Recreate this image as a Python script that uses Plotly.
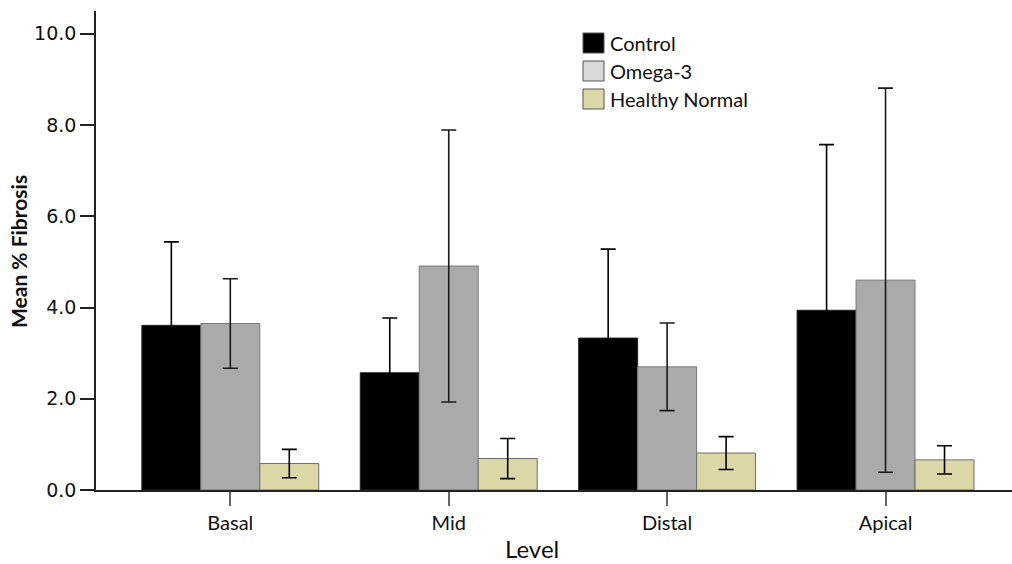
import plotly.graph_objects as go

# Mean % fibrosis by level, with error bars (± values)
levels = ["Basal", "Mid", "Distal", "Apical"]
groups = ["Control", "Omega-3", "Healthy Normal"]

control_mean = [3.61, 2.57, 3.33, 3.94]
control_err = [1.83, 1.20, 1.95, 3.63]

omega_mean = [3.65, 4.91, 2.70, 4.60]
omega_err = [0.98, 2.98, 0.96, 4.21]

healthy_mean = [0.58, 0.69, 0.81, 0.66]
healthy_err = [0.31, 0.44, 0.36, 0.31]

y_ticks = [0.0, 2.0, 4.0, 6.0, 8.0, 10.0]

bar_fill = ["#000000", "#aaaaaa", "#dbd7a7"]
bar_line = ["#222222", "#7a7a7a", "#6e6e6e"]
legend_fill = ["#000000", "#d9d9d9", "#dbd7a7"]
err_color = ["#000000", "#1a1a1a", "#000000"]

W, H = 1012, 564
ML, MR, MT, MB = 96, 0, 11, 74
PW, PH = W - ML - MR, H - MT - MB


def px_x(px):
    return (px - ML) / PW


def px_y(py):
    return (H - MB - py) / PH


fig = go.Figure()
series = [(control_mean, control_err), (omega_mean, omega_err), (healthy_mean, healthy_err)]
for i, (name, (vals, errs)) in enumerate(zip(groups, series)):
    fig.add_trace(go.Bar(
        name=name,
        x=levels,
        y=vals,
        marker=dict(color=bar_fill[i], line=dict(color=bar_line[i], width=1)),
        error_y=dict(type="data", array=errs, visible=True,
                     color=err_color[i], thickness=1.6, width=7.5),
        showlegend=False,
    ))

fig.update_layout(
    width=W, height=H,
    margin=dict(l=ML, r=MR, t=MT, b=MB, pad=0),
    paper_bgcolor="white", plot_bgcolor="white",
    barmode="group", bargap=0.19, bargroupgap=0,
    showlegend=False,
    xaxis=dict(
        range=[-0.615, 3.579],
        showline=True, linecolor="#222222", linewidth=1.6,
        ticks="outside", ticklen=14, tickwidth=1.6, tickcolor="#666666",
        tickfont=dict(family="Lato", size=20, color="#111111"),
        showgrid=False, zeroline=False,
    ),
    yaxis=dict(
        range=[0, 10.5],
        tickvals=y_ticks,
        ticktext=[f"{v:.1f}" for v in y_ticks],
        showline=True, linecolor="#222222", linewidth=1.6,
        ticks="outside", ticklen=14, tickwidth=1.6, tickcolor="#222222",
        tickfont=dict(family="DejaVu Sans", size=19, color="#111111"),
        showgrid=False, zeroline=False,
    ),
)

annotations = [
    dict(text="Level", x=px_x(532), y=px_y(548), xref="paper", yref="paper",
         showarrow=False, xanchor="center", yanchor="middle",
         font=dict(family="Lato", size=24, color="#111111")),
    dict(text="<b>Mean % Fibrosis</b>", x=px_x(18), y=px_y(252), xref="paper", yref="paper",
         showarrow=False, xanchor="center", yanchor="middle", textangle=-90,
         font=dict(family="Lato", size=21, color="#111111")),
]

shapes = []
row_centers = [43, 71, 99]
for i, name in enumerate(groups):
    cy = row_centers[i]
    shapes.append(dict(type="rect", xref="paper", yref="paper",
                       x0=px_x(583), x1=px_x(604), y0=px_y(cy + 10), y1=px_y(cy - 10),
                       fillcolor=legend_fill[i], line=dict(color="#555555", width=1)))
    annotations.append(dict(text=name, x=px_x(608), y=px_y(cy), xref="paper", yref="paper",
                            showarrow=False, xanchor="left", yanchor="middle",
                            font=dict(family="Lato", size=20, color="#111111")))

fig.update_layout(annotations=annotations, shapes=shapes)

fig.write_html("out.html")
